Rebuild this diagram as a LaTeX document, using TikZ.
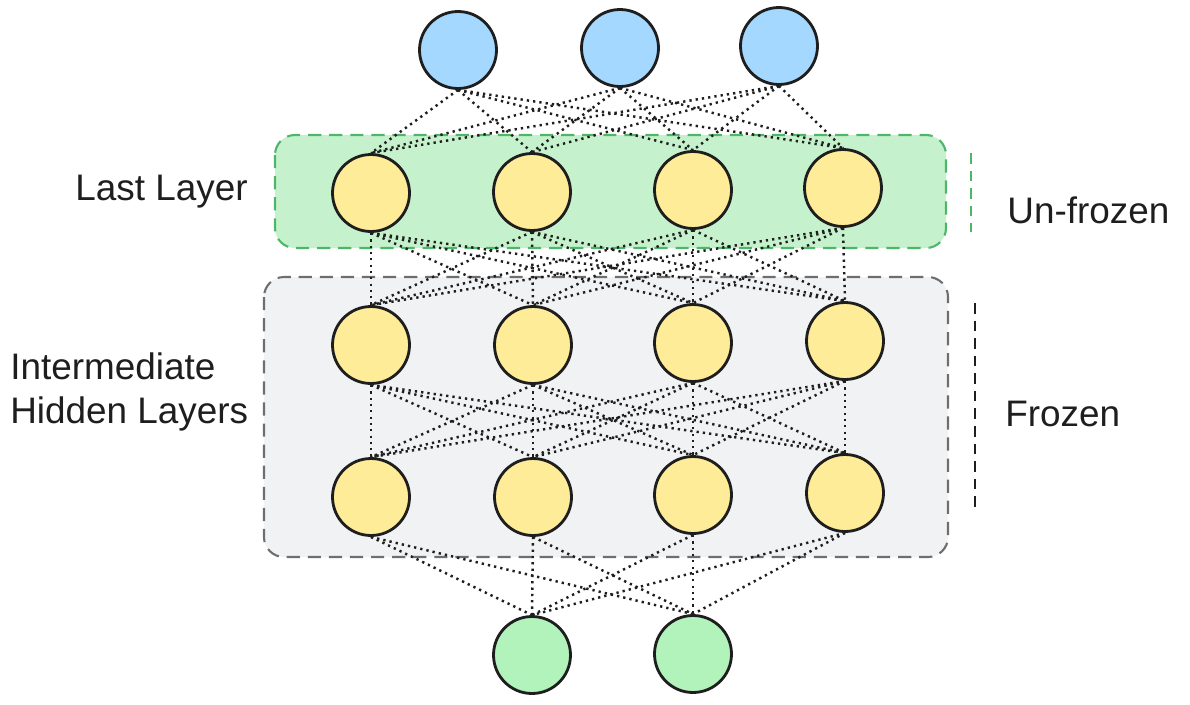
\documentclass[tikz,border=0pt]{standalone}
\usepackage{fontspec}
\setmainfont{Liberation Sans}
\usepackage{tikz}

\definecolor{blueunit}{HTML}{A5D8FF}
\definecolor{yellowunit}{HTML}{FFEC99}
\definecolor{greenunit}{HTML}{B2F2BB}
\definecolor{greenbox}{HTML}{C5F2CC}
\definecolor{greenedge}{HTML}{4FB56B}
\definecolor{graybox}{HTML}{F1F2F4}
\definecolor{grayedge}{HTML}{6E6E6E}
\definecolor{inkblack}{HTML}{1E1E1E}

\begin{document}
\begin{tikzpicture}[x=0.02cm, y=-0.02cm,
   unit/.style={circle, draw=inkblack, line width=1.6pt, minimum size=1.54cm, inner sep=0pt},
   inp/.style={unit, fill=blueunit},
   hid/.style={unit, fill=yellowunit},
   outp/.style={unit, fill=greenunit},
   link/.style={draw=inkblack, line width=1.4pt, dash pattern=on 1.3pt off 2.3pt},
   lbl/.style={font=\fontsize{21}{25}\selectfont, text=inkblack, inner sep=0pt}]

   \useasboundingbox (0,0) rectangle (1190,704);

   \filldraw[fill=greenbox, draw=greenedge, line width=1.2pt, dash pattern=on 7.5pt off 4.5pt, rounded corners=0.4cm] (275,135) rectangle (946,248);
   \filldraw[fill=graybox, draw=grayedge, line width=1.2pt, dash pattern=on 7.5pt off 4.5pt, rounded corners=0.4cm] (264,277) rectangle (948,557);

   \draw[draw=greenedge, line width=1.2pt, dash pattern=on 6pt off 4pt] (971,153) -- (971,232);
   \draw[draw=inkblack, line width=1.2pt, dash pattern=on 6pt off 4pt] (975,303) -- (975,512);

   \node[inp] (i1) at (458,50) {};
   \node[inp] (i2) at (620,48) {};
   \node[inp] (i3) at (779,46) {};

   \node[hid] (l1) at (371,193) {};
   \node[hid] (l2) at (532,192) {};
   \node[hid] (l3) at (693,190) {};
   \node[hid] (l4) at (843,188) {};

   \node[hid] (h1) at (371,345) {};
   \node[hid] (h2) at (533,345) {};
   \node[hid] (h3) at (693,343) {};
   \node[hid] (h4) at (845,341) {};

   \node[hid] (g1) at (371,497) {};
   \node[hid] (g2) at (533,497) {};
   \node[hid] (g3) at (693,495) {};
   \node[hid] (g4) at (845,493) {};

   \node[outp] (o1) at (532,655) {};
   \node[outp] (o2) at (693,654) {};

   \foreach \a in {1,2,3}
      \foreach \b in {1,...,4}
         \draw[link] (i\a.south) -- (l\b.north);
   \foreach \a in {1,...,4}
      \foreach \b in {1,...,4} {
         \draw[link] (l\a.south) -- (h\b.north);
         \draw[link] (h\a.south) -- (g\b.north);
      }
   \foreach \a in {1,...,4}
      \foreach \b in {1,2}
         \draw[link] (g\a.south) -- (o\b.north);

   \node[lbl, anchor=east] (lastlbl) at (248,192) {Last Layer};
   \node[lbl, anchor=west, align=left] (midlbl) at (10,392) {Intermediate\\Hidden Layers};
   \node[lbl, anchor=west] (unfrozenlbl) at (1007,210) {Un-frozen};
   \node[lbl, anchor=west] (frozenlbl) at (1005,414) {Frozen};

\end{tikzpicture}
\end{document}
